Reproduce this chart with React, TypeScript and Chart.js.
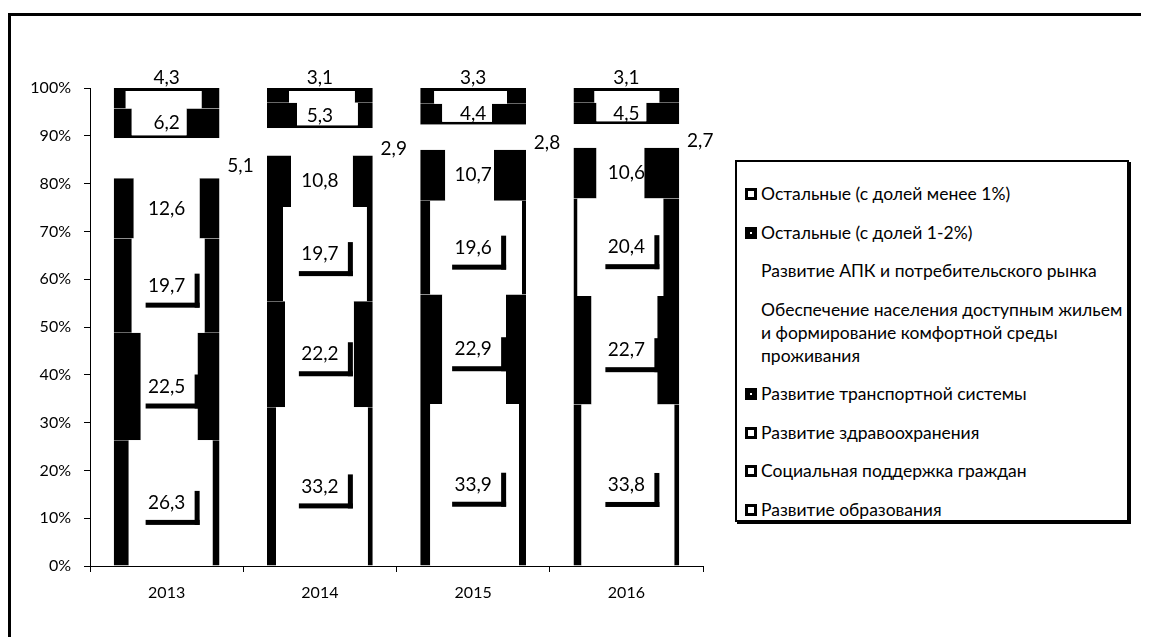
import React, { useEffect, useRef } from "react";
import { Chart, registerables } from "chart.js";

Chart.register(...registerables);

const years = ["2013", "2014", "2015", "2016"];

const seriesNames = [
  "Развитие образования",
  "Социальная поддержка граждан",
  "Развитие здравоохранения",
  "Развитие транспортной системы",
  "Обеспечение населения доступным жильем\nи формирование комфортной среды\nпроживания",
  "Развитие АПК и потребительского рынка",
  "Остальные (с долей 1-2%)",
  "Остальные (с долей менее 1%)",
];

const education = [26.3, 33.2, 33.9, 33.8];
const socialSupport = [22.5, 22.2, 22.9, 22.7];
const healthcare = [19.7, 19.7, 19.6, 20.4];
const transport = [12.6, 10.8, 10.7, 10.6];
const housing = [5.1, 2.9, 2.8, 2.7];
const agro = [3.3, 2.8, 2.4, 2.2];
const others12 = [6.2, 5.3, 4.4, 4.5];
const othersLess1 = [4.3, 3.1, 3.3, 3.1];

const seriesValues = [education, socialSupport, healthcare, transport, housing, agro, others12, othersLess1];

const yTicks = [0, 10, 20, 30, 40, 50, 60, 70, 80, 90, 100];

// styling (black side bands of each segment)
const sideLeft = [
  [15, 9, 10, 8],
  [27, 18, 22, 18],
  [18, 16, 10, 4],
  [20, 24, 25, 23],
  [0, 0, 0, 0],
  [0, 0, 0, 0],
  [18, 30, 22, 23],
  [12, 22, 14, 21],
];
const sideRight = [
  [7, 5, 7, 5],
  [22, 19, 20, 22],
  [15, 6, 4, 16],
  [20, 20, 32, 35],
  [0, 0, 0, 0],
  [0, 0, 0, 0],
  [33, 15, 34, 33],
  [18, 18, 19, 20],
];
const topBorder = [0, 0, 0, 0, 0, 0, 0, 3];
const bottomBorder = [0, 0, 0, 0, 0, 0, 3, 0];
// label placement per series
const labelMode = ["insideL", "insideL", "insideL", "inside", "right", "none", "inside", "above"];

const legendOrder = [7, 6, 5, 4, 3, 2, 1, 0];
const legendMarker = [3, 3, 3, 5, 0, 0, 5, 3];

const fmt = (v: number) => v.toFixed(1).replace(".", ",");

const labelPlugin = {
  id: "segLabels",
  afterDatasetsDraw(chart: any) {
    const ctx = chart.ctx;
    ctx.save();
    ctx.font = "19px Lato";
    ctx.fillStyle = "#000";
    ctx.textAlign = "center";
    ctx.textBaseline = "middle";
    chart.data.datasets.forEach((ds: any, di: number) => {
      const mode = labelMode[di];
      if (mode === "none") return;
      const meta = chart.getDatasetMeta(di);
      meta.data.forEach((bar: any, i: number) => {
        const v = ds.data[i] as number;
        const p = bar.getProps(["x", "y", "base", "width"], true);
        const cy = (p.y + p.base) / 2;
        if (mode === "right") {
          ctx.fillText(fmt(v), p.x + p.width / 2 + 21, cy);
        } else if (mode === "above") {
          ctx.fillText(fmt(v), p.x, p.y - 10.5);
        } else {
          if (mode === "insideL") {
            ctx.fillRect(p.x - 21, cy + 17, 54, 5);
            ctx.fillRect(p.x + 28, cy - 12, 5, 34);
          }
          ctx.fillText(fmt(v), p.x, cy);
        }
      });
    });
    ctx.restore();
  },
};

export default function App() {
  const canvasRef = useRef<HTMLCanvasElement | null>(null);

  useEffect(() => {
    if (!canvasRef.current) return;
    const chart = new Chart(canvasRef.current, {
      type: "bar",
      data: {
        labels: years,
        datasets: seriesValues.map((vals, si) => ({
          label: seriesNames[si].replace(/\n/g, " "),
          data: vals,
          backgroundColor: "#fff",
          borderColor: "#000",
          borderSkipped: false,
          borderWidth: (c: any) => ({
            left: sideLeft[si][c.dataIndex] ?? 0,
            right: sideRight[si][c.dataIndex] ?? 0,
            top: topBorder[si],
            bottom: bottomBorder[si],
          }),
          categoryPercentage: 1,
          barPercentage: 0.69,
        })),
      },
      options: {
        responsive: false,
        animation: false,
        layout: { padding: { top: 80, right: 25, left: 0, bottom: 0 } },
        plugins: { legend: { display: false }, tooltip: { enabled: false }, title: { display: false } },
        scales: {
          x: {
            stacked: true,
            afterFit: (s: any) => {
              s.height = 71;
            },
            grid: { drawOnChartArea: false, drawTicks: true, tickLength: 6, color: "#000", offset: true },
            border: { color: "#000", width: 1 },
            ticks: { color: "#000", font: { family: "Lato", size: 16 }, padding: 11 },
          },
          y: {
            stacked: true,
            min: 0,
            max: 100,
            afterFit: (s: any) => {
              s.width = 82;
            },
            afterBuildTicks: (s: any) => {
              s.ticks = yTicks.map((v) => ({ value: v }));
            },
            grid: { drawOnChartArea: false, drawTicks: true, tickLength: 6, color: "#000" },
            border: { color: "#000", width: 1 },
            ticks: {
              color: "#000",
              font: { family: "Lato", size: 16 },
              padding: 13,
              callback: (v: any) => v + "%",
            },
          },
        },
      },
      plugins: [labelPlugin],
    });
    return () => chart.destroy();
  }, []);

  return (
    <div style={{ position: "relative", width: 1141, height: 629, overflow: "hidden", fontFamily: "Lato" }}>
      <div
        style={{
          position: "absolute",
          left: 0,
          top: 5,
          width: 1300,
          height: 800,
          borderTop: "3px solid #000",
          borderLeft: "3px solid #000",
        }}
      />
      <canvas ref={canvasRef} width={720} height={629} style={{ position: "absolute", left: 0, top: 0, display: "block" }} />
      <div
        style={{
          position: "absolute",
          left: 727,
          top: 152,
          width: 394,
          height: 362,
          border: "2px solid #000",
          boxShadow: "2px 2px 0 #000",
          background: "#fff",
          boxSizing: "border-box",
          paddingTop: 20,
          paddingLeft: 8,
          display: "flex",
          flexDirection: "column",
          gap: 15.5,
          fontSize: 17.5,
          lineHeight: "23px",
          color: "#000",
        }}
      >
        {legendOrder.map((si) => (
          <div key={si} style={{ display: "flex", alignItems: "flex-start" }}>
            <span
              style={{
                display: "inline-block",
                width: 12,
                height: 12,
                marginTop: 6,
                marginRight: 4,
                boxSizing: "border-box",
                border: legendMarker[si] ? `${legendMarker[si]}px solid #000` : "none",
                flex: "0 0 12px",
              }}
            />
            <span style={{ whiteSpace: "pre-line" }}>{seriesNames[si]}</span>
          </div>
        ))}
      </div>
    </div>
  );
}
